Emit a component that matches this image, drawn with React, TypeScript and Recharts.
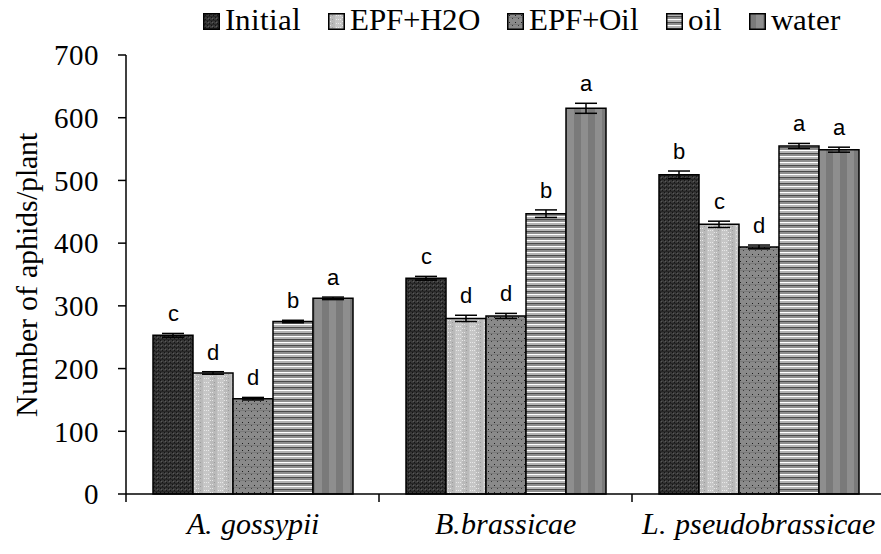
import React from 'react';
import { BarChart, Bar, XAxis, YAxis, ErrorBar, LabelList } from 'recharts';

// aphid counts per plant
const categories = ['A. gossypii', 'B.brassicae', 'L. pseudobrassicae'];
const initial = [253, 344, 509];
const epfH2O = [193, 280, 430];
const epfOil = [152, 284, 394];
const oil = [275, 447, 555];
const water = [312, 615, 549];

const initialErr = [3, 3, 6];
const epfH2OErr = [2, 5, 5];
const epfOilErr = [2, 4, 3];
const oilErr = [2, 6, 4];
const waterErr = [2, 8, 4];

const initialLetters = ['c', 'c', 'b'];
const epfH2OLetters = ['d', 'd', 'c'];
const epfOilLetters = ['d', 'd', 'd'];
const oilLetters = ['b', 'b', 'a'];
const waterLetters = ['a', 'a', 'a'];

const yTicks = [0, 100, 200, 300, 400, 500, 600, 700];

const series = [
    { key: 'initial', name: 'Initial', values: initial, err: initialErr, letters: initialLetters, fill: 'url(#pInitial)' },
    { key: 'epfH2O', name: 'EPF+H2O', values: epfH2O, err: epfH2OErr, letters: epfH2OLetters, fill: 'url(#pH2O)' },
    { key: 'epfOil', name: 'EPF+Oil', values: epfOil, err: epfOilErr, letters: epfOilLetters, fill: 'url(#pOil)' },
    { key: 'oil', name: 'oil', values: oil, err: oilErr, letters: oilLetters, fill: 'url(#pOilOnly)' },
    { key: 'water', name: 'water', values: water, err: waterErr, letters: waterLetters, fill: 'url(#pWater)' },
];

const data = categories.map((name, i) => {
    const row: any = { name };
    series.forEach((s) => {
        row[s.key] = s.values[i];
        row[s.key + 'Err'] = s.err[i];
        row[s.key + 'Letter'] = s.letters[i];
    });
    return row;
});

const serif = 'ChartSerif, "Liberation Serif", serif';
const sans = 'ChartSans, "Liberation Sans", sans-serif';

// local aliases so the serif face sticks even if the family name gets swapped
const fontCss = `
@font-face { font-family: "ChartSerif"; src: local("Liberation Serif"), local("LiberationSerif"); font-style: normal; }
@font-face { font-family: "ChartSerif"; src: local("Liberation Serif Italic"), local("LiberationSerif-Italic"); font-style: italic; }
@font-face { font-family: "ChartSans"; src: local("Liberation Sans"), local("LiberationSans"); }
.serifText { font-family: ChartSerif, "Liberation Serif", serif; }
`;

const makeLetter = (values: number[], errs: number[]) => (props: any) => {
    const { x, y, width, height, value, index } = props;
    const pxPerUnit = height / values[index];
    const errPx = errs[index] * pxPerUnit;
    return (
        <text x={x + width / 2} y={y - errPx - 12} textAnchor="middle" style={{ fontFamily: sans, fontSize: 22 }} fill="#000">
            {value}
        </text>
    );
};

// category label plus tick marks at the group boundaries
const CategoryTick = (props: any) => {
    const { x, y, payload, index } = props;
    const half = payload && payload.offset ? payload.offset : 126.5;
    const axisY = y - 15;
    return (
        <g>
            {index === 0 && <line x1={x - half} x2={x - half} y1={axisY} y2={axisY + 8} stroke="#000" strokeWidth={1.5} />}
            <line x1={x + half} x2={x + half} y1={axisY} y2={axisY + 8} stroke="#000" strokeWidth={1.5} />
            <text x={x} y={y} dy="0.83em" textAnchor="middle" fill="#000"
                style={{ fontFamily: serif, fontSize: 30, fontStyle: 'italic' }}>
                {payload.value}
            </text>
        </g>
    );
};

// legend kept as plain html above the plot
const TopLegend = () => (
    <div style={{ position: 'absolute', top: 3, left: 203, display: 'flex', alignItems: 'center', fontFamily: serif, fontSize: 31, lineHeight: '34px', color: '#000', whiteSpace: 'nowrap' }}>
        {series.map((s) => (
            <div key={s.key} style={{ display: 'flex', alignItems: 'center', marginRight: 27 }}>
                <svg width={17} height={17} style={{ marginRight: 5, marginTop: 3 }}>
                    <rect x={0.75} y={0.75} width={15.5} height={15.5} fill={s.fill} stroke="#000" strokeWidth={1.5} />
                </svg>
                <span style={{ fontFamily: serif }}>{s.name}</span>
            </div>
        ))}
    </div>
);

const App = () => {
    return (
        <div style={{ position: 'fixed', left: 0, top: 0, width: 881, height: 554, overflow: 'hidden', background: '#fff' }}>
            <style>{fontCss}</style>
            <BarChart
                width={900}
                height={554}
                data={data}
                margin={{ top: 55, right: 15, bottom: 0, left: 0 }}
                barCategoryGap={27}
                barGap={0}
            >
                <defs>
                    <pattern id="pInitial" width={4} height={4} patternUnits="userSpaceOnUse">
                        <rect width={4} height={4} fill="#383838" />
                        <rect x={0} y={0} width={1} height={1} fill="#141414" />
                        <rect x={2} y={2} width={1} height={1} fill="#141414" />
                        <rect x={1} y={1} width={1} height={1} fill="#5a5a5a" />
                        <rect x={3} y={3} width={1} height={1} fill="#5a5a5a" />
                        <rect x={0} y={3} width={4} height={1} fill="#262626" />
                    </pattern>
                    <pattern id="pH2O" width={14} height={4} patternUnits="userSpaceOnUse">
                        <rect width={14} height={4} fill="#c6c6c6" />
                        <rect x={0} y={0} width={7} height={4} fill="#bababa" />
                        <rect x={0} y={0} width={1} height={1} fill="#e6e6e6" />
                        <rect x={2} y={0} width={1} height={1} fill="#e6e6e6" />
                        <rect x={8} y={2} width={1} height={1} fill="#e8e8e8" />
                        <rect x={10} y={2} width={1} height={1} fill="#e8e8e8" />
                        <rect x={12} y={2} width={1} height={1} fill="#e8e8e8" />
                        <rect x={4} y={2} width={1} height={1} fill="#9c9c9c" />
                    </pattern>
                    <pattern id="pOil" width={6} height={7} patternUnits="userSpaceOnUse">
                        <rect width={6} height={7} fill="#8a8a8a" />
                        <rect x={0} y={4} width={6} height={1} fill="#7a7a7a" />
                        <rect x={2} y={2} width={1} height={1} fill="#1e1e1e" />
                        <rect x={5} y={5} width={1} height={1} fill="#3a3a3a" />
                    </pattern>
                    <pattern id="pOilOnly" width={8} height={6} patternUnits="userSpaceOnUse">
                        <rect width={8} height={6} fill="#a0a0a0" />
                        <rect x={0} y={0} width={8} height={1} fill="#ffffff" />
                        <rect x={0} y={1} width={8} height={2} fill="#b4b4b4" />
                        <rect x={0} y={3} width={8} height={1} fill="#4a4a4a" />
                        <rect x={0} y={4} width={8} height={2} fill="#8e8e8e" />
                    </pattern>
                    <pattern id="pWater" width={14} height={4} patternUnits="userSpaceOnUse">
                        <rect width={14} height={4} fill="#7a7a7a" />
                        <rect x={7} y={0} width={7} height={4} fill="#8e8e8e" />
                    </pattern>
                </defs>
                <XAxis
                    dataKey="name"
                    axisLine={{ stroke: '#000', strokeWidth: 1.5 }}
                    tickLine={false}
                    tickSize={0}
                    tickMargin={15}
                    height={60}
                    tick={<CategoryTick />}
                    interval={0}
                />
                <YAxis
                    domain={[0, 700]}
                    ticks={yTicks}
                    width={126}
                    axisLine={{ stroke: '#000', strokeWidth: 1.5 }}
                    tickLine={{ stroke: '#000', strokeWidth: 1.5 }}
                    tickSize={8}
                    tickMargin={19}
                    tick={{ fill: '#000', fontSize: 29, className: 'serifText', style: { fontFamily: serif } }}
                    label={{
                        value: 'Number of aphids/plant',
                        angle: -90,
                        position: 'insideLeft',
                        offset: 26,
                        className: 'serifText',
                        style: { textAnchor: 'middle', fontFamily: serif, fontSize: 30, fill: '#000' },
                    }}
                />
                {series.map((s) => (
                    <Bar key={s.key} dataKey={s.key} name={s.name} fill={s.fill} stroke="#000" strokeWidth={1.5} isAnimationActive={false}>
                        <ErrorBar dataKey={s.key + 'Err'} width={11} stroke="#000" strokeWidth={1.5} direction="y" />
                        <LabelList dataKey={s.key + 'Letter'} content={makeLetter(s.values, s.err)} />
                    </Bar>
                ))}
            </BarChart>
            <TopLegend />
        </div>
    );
};

export default App;
